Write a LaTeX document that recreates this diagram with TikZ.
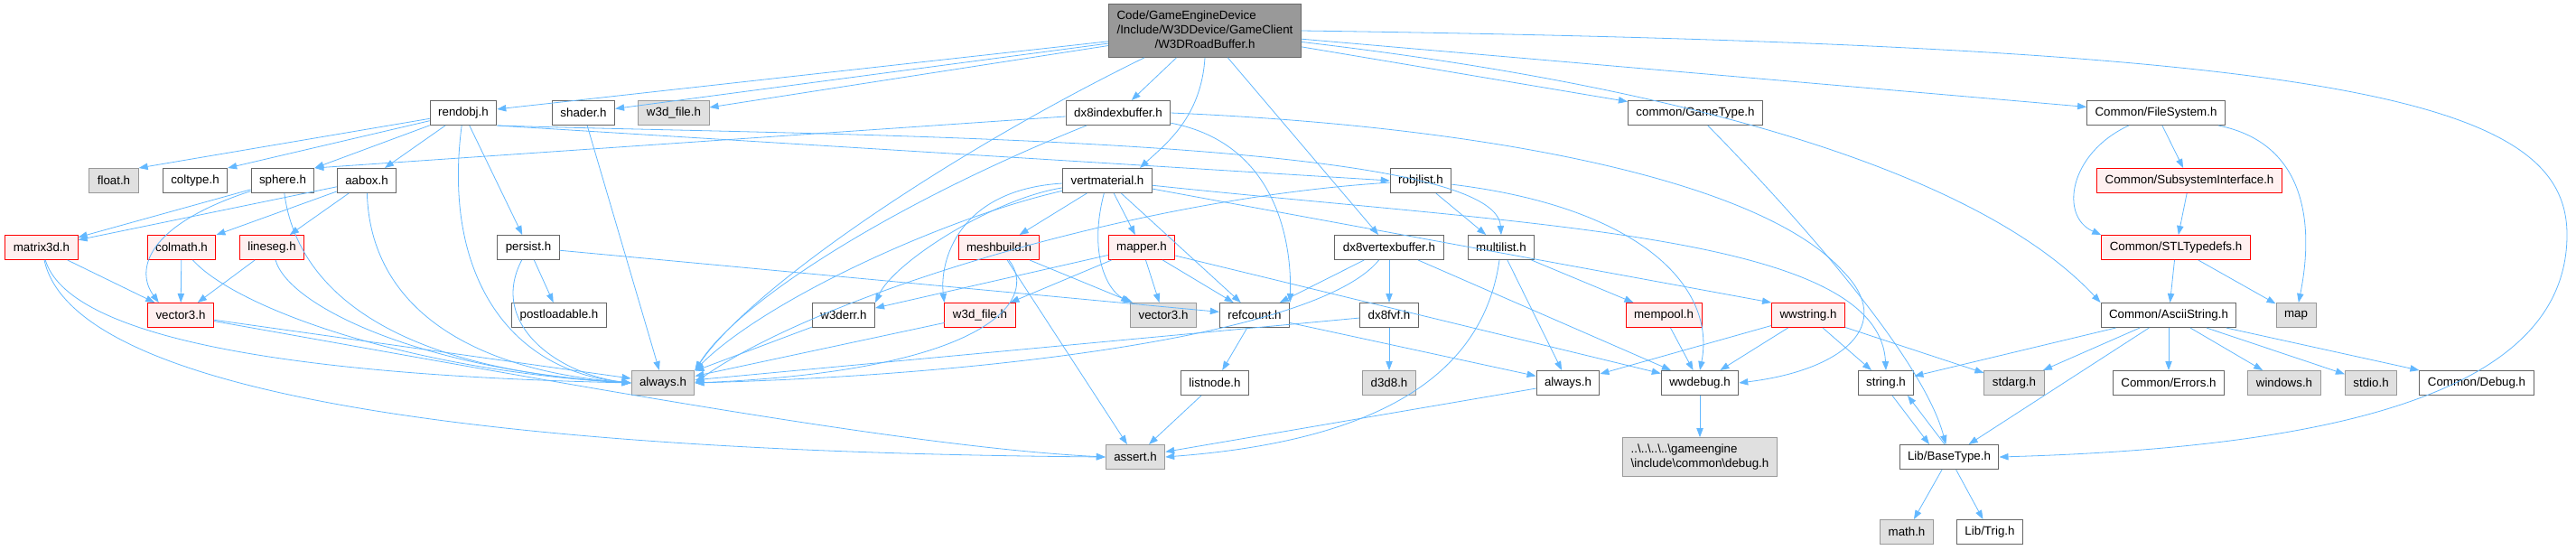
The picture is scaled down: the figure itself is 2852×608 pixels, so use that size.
\documentclass[tikz,border=0pt]{standalone}
\usepackage{fontspec}
\setmainfont{Liberation Sans}
\usetikzlibrary{arrows.meta}
\definecolor{Edge}{HTML}{63B8FF}
\definecolor{Frame}{HTML}{666666}
\definecolor{SysFill}{HTML}{E0E0E0}
\definecolor{SysFrame}{HTML}{999999}
\definecolor{RedFill}{HTML}{FFF0F0}
\definecolor{RedFrame}{HTML}{FF0000}
\definecolor{RootFill}{HTML}{999999}
\tikzset{
  file/.style={draw=Frame, fill=white, line width=0.75pt, minimum height=20.25pt,
    inner xsep=6.75pt, inner ysep=2pt, font=\fontsize{10}{12}\selectfont},
  sysfile/.style={file, draw=SysFrame, fill=SysFill},
  redfile/.style={file, draw=RedFrame, fill=RedFill},
  rootfile/.style={file, fill=RootFill, inner ysep=4pt},
  dep/.style={draw=Edge, line width=0.6pt, -{Triangle[length=7.5pt,width=5.5pt]}}
}

\begin{document}
\begin{tikzpicture}[x=0.75pt, y=0.75pt]
    \useasboundingbox (0,0) rectangle (2852,-608);
    \node[rootfile] (top) at (1334,-34) {\begin{tabular}{@{}l@{}}Code/GameEngineDevice\\/Include/W3DDevice/GameClient\\\multicolumn{1}{@{}c@{}}{/W3DRoadBuffer.h}\end{tabular}};
    \node[file] (rendobj) at (513,-125) {rendobj.h};
    \node[file] (shader) at (646,-125) {shader.h};
    \node[sysfile] (w3dfileg) at (746,-125) {w3d\_file.h};
    \node[file] (dx8index) at (1238,-125) {dx8indexbuffer.h};
    \node[file] (gametype) at (1877,-125) {common/GameType.h};
    \node[file] (filesystem) at (2387,-125) {Common/FileSystem.h};
    \node[sysfile] (float) at (126,-200) {float.h};
    \node[file] (coltype) at (216,-200) {coltype.h};
    \node[file] (sphere) at (313,-200) {sphere.h};
    \node[file] (aabox) at (406,-200) {aabox.h};
    \node[file] (vertmat) at (1226,-200) {vertmaterial.h};
    \node[file] (robjlist) at (1573,-200) {robjlist.h};
    \node[redfile] (subsys) at (2424,-200) {Common/SubsystemInterface.h};
    \node[redfile] (matrix) at (46,-274) {matrix3d.h};
    \node[redfile] (colmath) at (201,-274) {colmath.h};
    \node[redfile] (lineseg) at (301,-274) {lineseg.h};
    \node[file] (persist) at (585,-274) {persist.h};
    \node[redfile] (meshbuild) at (1106,-274) {meshbuild.h};
    \node[redfile] (mapper) at (1264,-274) {mapper.h};
    \node[file] (dx8vertex) at (1538,-274) {dx8vertexbuffer.h};
    \node[file] (multilist) at (1662,-274) {multilist.h};
    \node[redfile] (stltypedefs) at (2409,-274) {Common/STLTypedefs.h};
    \node[redfile] (vector3r) at (200,-349) {vector3.h};
    \node[file] (postload) at (619,-349) {postloadable.h};
    \node[file] (w3derr) at (934,-349) {w3derr.h};
    \node[redfile] (w3dfiler) at (1085,-349) {w3d\_file.h};
    \node[sysfile] (vector3g) at (1288,-349) {vector3.h};
    \node[file] (refcount) at (1389,-349) {refcount.h};
    \node[file] (dx8fvf) at (1538,-349) {dx8fvf.h};
    \node[redfile] (mempool) at (1842,-349) {mempool.h};
    \node[redfile] (wwstring) at (2002,-349) {wwstring.h};
    \node[file] (ascii) at (2401,-349) {Common/AsciiString.h};
    \node[sysfile] (map) at (2542,-349) {map};
    \node[sysfile] (alwaysg) at (734,-424) {always.h};
    \node[file] (listnode) at (1345,-424) {listnode.h};
    \node[sysfile] (d3d8) at (1538,-424) {d3d8.h};
    \node[file] (alwaysw) at (1736,-424) {always.h};
    \node[file] (wwdebug) at (1882,-424) {wwdebug.h};
    \node[file] (stringh) at (2088,-424) {string.h};
    \node[sysfile] (stdarg) at (2230,-424) {stdarg.h};
    \node[file] (errors) at (2401,-424) {Common/Errors.h};
    \node[sysfile] (windows) at (2529,-424) {windows.h};
    \node[sysfile] (stdio) at (2625,-424) {stdio.h};
    \node[file] (debugh) at (2742,-424) {Common/Debug.h};
    \node[sysfile] (assert) at (1257,-506) {assert.h};
    \node[sysfile, inner ysep=4pt] (gamedebug) at (1882,-506) {\begin{tabular}{@{}l@{}}..\textbackslash..\textbackslash..\textbackslash..\textbackslash gameengine\\\textbackslash include\textbackslash common\textbackslash debug.h\end{tabular}};
    \node[file] (basetype) at (2158,-506) {Lib/BaseType.h};
    \node[sysfile] (math) at (2111,-589) {math.h};
    \node[file] (trig) at (2203,-589) {Lib/Trig.h};

    \draw[dep] (top) -- (rendobj);
    \draw[dep] (top) -- (shader);
    \draw[dep] (top) -- (w3dfileg);
    \draw[dep] ([xshift=30pt]top.south west) .. controls (1050,-170) and (830,-320) .. (alwaysg.north east);
    \draw[dep] (top) -- (dx8index);
    \draw[dep] (top.south) .. controls (1330,-130) and (1290,-160) .. ([xshift=27pt]vertmat.north);
    \draw[dep] (top) -- (dx8vertex);
    \draw[dep] (top) -- (gametype);
    \draw[dep] (top) -- (filesystem);
    \draw[dep] (top) .. controls (1900,-100) and (2200,-200) .. (ascii.north west);
    \draw[dep] (top.east) .. controls (2600,-50) and (2842,-110) .. (2842,-260) .. controls (2842,-430) and (2600,-495) .. (basetype.east);

    \draw[dep] (rendobj) -- (float.north east);
    \draw[dep] (rendobj) -- (coltype.north east);
    \draw[dep] (rendobj) -- (sphere.north east);
    \draw[dep] (rendobj) -- (aabox);
    \draw[dep] (rendobj) -- (persist);
    \draw[dep] (rendobj) .. controls (490,-300) and (560,-410) .. (alwaysg.west);
    \draw[dep] (rendobj.south east) -- (robjlist.west);
    \draw[dep] (rendobj.south east) .. controls (900,-150) and (1655,-150) .. (multilist.north);
    \draw[dep] (shader) -- (alwaysg);

    \draw[dep] (sphere) -- (matrix);
    \draw[dep] (sphere) .. controls (160,-250) and (150,-300) .. (vector3r.150);
    \draw[dep] (sphere) .. controls (330,-330) and (450,-410) .. (alwaysg.west);
    \draw[dep] (aabox) -- (matrix);
    \draw[dep] (aabox) -- (colmath);
    \draw[dep] (aabox) -- (lineseg);
    \draw[dep] (aabox) .. controls (410,-340) and (520,-410) .. (alwaysg.west);
    \draw[dep] (matrix) -- (vector3r);
    \draw[dep] (matrix) .. controls (75,-370) and (300,-415) .. (alwaysg.west);
    \draw[dep] (matrix) .. controls (80,-430) and (500,-500) .. (assert.west);
    \draw[dep] (colmath) -- (vector3r);
    \draw[dep] (colmath) .. controls (260,-340) and (450,-410) .. (alwaysg.west);
    \draw[dep] (lineseg) -- (vector3r);
    \draw[dep] (lineseg) .. controls (320,-340) and (470,-410) .. (alwaysg.west);
    \draw[dep] (vector3r) -- (alwaysg);
    \draw[dep] (vector3r) .. controls (600,-420) and (1000,-495) .. (assert.west);
    \draw[dep] (persist) -- (postload);
    \draw[dep] (persist) .. controls (540,-360) and (620,-415) .. (alwaysg.west);
    \draw[dep] (persist) -- (refcount);

    \draw[dep] (dx8index) -- (sphere.north east);
    \draw[dep] (dx8index) .. controls (1000,-220) and (820,-330) .. (alwaysg.north east);
    \draw[dep] (dx8index) .. controls (1420,-160) and (1430,-280) .. (refcount.north east);
    \draw[dep] (dx8index.east) .. controls (1650,-140) and (1950,-200) .. (2040,-300) .. controls (2100,-360) and (2040,-410) .. (wwdebug.east);

    \draw[dep] (vertmat) -- (meshbuild);
    \draw[dep] (vertmat) -- (mapper);
    \draw[dep] (vertmat) .. controls (1205,-280) and (1225,-320) .. (vector3g.north west);
    \draw[dep] (vertmat) -- (refcount);
    \draw[dep] (vertmat) .. controls (1060,-210) and (1040,-290) .. (w3dfiler.north west);
    \draw[dep] (vertmat) .. controls (1100,-220) and (990,-290) .. (w3derr.north east);
    \draw[dep] (vertmat) .. controls (1050,-240) and (850,-330) .. (alwaysg.north east);
    \draw[dep] (vertmat) -- (wwstring.north west);
    \draw[dep] (vertmat) .. controls (1700,-250) and (2080,-260) .. (stringh.north);

    \draw[dep] (meshbuild) -- (vector3g);
    \draw[dep] (meshbuild) -- (assert);
    \draw[dep] (meshbuild) .. controls (1150,-330) and (1100,-410) .. (alwaysg.east);
    \draw[dep] (mapper) -- (w3dfiler);
    \draw[dep] (mapper) -- (w3derr);
    \draw[dep] (mapper) -- (vector3g);
    \draw[dep] (mapper) -- (refcount);
    \draw[dep] (mapper) -- (wwdebug);
    \draw[dep] (w3derr) -- (alwaysg);
    \draw[dep] (w3dfiler) -- (alwaysg);

    \draw[dep] (dx8vertex) -- (refcount);
    \draw[dep] (dx8vertex) -- (dx8fvf);
    \draw[dep] (dx8vertex) .. controls (1460,-370) and (1100,-415) .. (alwaysg.east);
    \draw[dep] (dx8vertex) -- (wwdebug);
    \draw[dep] (dx8fvf) -- (d3d8);
    \draw[dep] (dx8fvf) -- (alwaysg);
    \draw[dep] (refcount) -- (listnode);
    \draw[dep] (refcount) -- (alwaysw);
    \draw[dep] (listnode) -- (assert);

    \draw[dep] (robjlist) -- (multilist);
    \draw[dep] (robjlist) .. controls (1250,-220) and (900,-330) .. (alwaysg.east);
    \draw[dep] (robjlist) .. controls (1820,-230) and (1900,-320) .. (wwdebug.north);
    \draw[dep] (multilist) -- (mempool);
    \draw[dep] (multilist) -- (alwaysw);
    \draw[dep] (multilist) .. controls (1640,-430) and (1500,-490) .. (assert.east);
    \draw[dep] (alwaysw) -- (assert);
    \draw[dep] (mempool) -- (wwdebug);
    \draw[dep] (wwstring) -- (alwaysw);
    \draw[dep] (wwstring) -- (wwdebug);
    \draw[dep] (wwstring) -- (stringh);
    \draw[dep] (wwstring) -- (stdarg);
    \draw[dep] (wwdebug) -- (gamedebug);

    \draw[dep] (gametype) .. controls (2000,-250) and (2130,-400) .. (basetype);
    \draw[dep] (filesystem) -- (subsys);
    \draw[dep] (filesystem) .. controls (2290,-170) and (2280,-240) .. (stltypedefs.north west);
    \draw[dep] (filesystem) .. controls (2560,-160) and (2560,-260) .. (map);
    \draw[dep] (subsys) -- (stltypedefs);
    \draw[dep] (stltypedefs) -- (ascii);
    \draw[dep] (stltypedefs) -- (map);
    \draw[dep] (ascii) -- (stringh);
    \draw[dep] (ascii) -- (stdarg);
    \draw[dep] (ascii) -- (basetype);
    \draw[dep] (ascii) -- (errors);
    \draw[dep] (ascii) -- (windows);
    \draw[dep] (ascii) -- (stdio);
    \draw[dep] (ascii) -- (debugh);
    \draw[dep] ([xshift=5.25pt]stringh.south) -- ([xshift=-16.5pt]basetype.north);
    \draw[dep] ([xshift=-3.75pt]basetype.north) -- ([xshift=18pt]stringh.south);
    \draw[dep] (basetype) -- (math);
    \draw[dep] (basetype) -- (trig);
  \end{tikzpicture}
\end{document}
